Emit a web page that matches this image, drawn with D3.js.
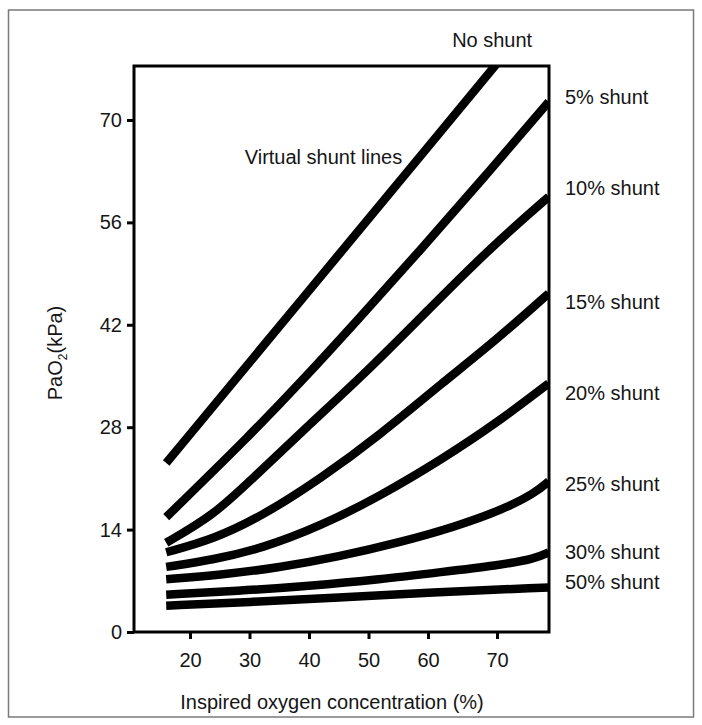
<!DOCTYPE html>
<html><head><meta charset="utf-8">
<script src="https://cdn.jsdelivr.net/npm/d3@7"></script>
<style>
body{margin:0;background:#fff}
svg{display:block}
text{font-family:"Liberation Sans",Arial,Helvetica,sans-serif;fill:#151515}
</style>
</head><body><div id="chart"></div>
<script>
// ---- data ----
const xTicks = [20, 30, 40, 50, 60, 70];
const yTicks = [0, 14, 28, 42, 56, 70];
const seriesNames = ["No shunt", "5% shunt", "10% shunt", "15% shunt", "20% shunt", "25% shunt", "30% shunt", "50% shunt"];
const noShunt = [[16.0,23.1],[38.5,45.2],[60,66.3],[77.5,86.3]];
const shunt5  = [[16.0,15.7],[30.1,26.9],[39.0,34.5],[48.0,42.5],[58.7,52.2],[68.0,62.0],[77.5,72.5]];
const shunt10 = [[16.0,12.2],[24.0,16.0],[30.0,20.6],[40.0,28.3],[50.0,35.8],[60.0,44.0],[69.0,52.5],[77.5,59.5]];
const shunt15 = [[16.0,10.9],[24.0,12.7],[32.0,15.8],[42.0,21.0],[52.0,27.0],[62.0,34.0],[70.0,40.0],[77.5,46.3]];
const shunt20 = [[16.0,8.9],[24.0,9.9],[32.0,11.4],[42.0,14.5],[52.0,18.6],[62.0,23.6],[70.0,28.6],[77.5,34.0]];
const shunt25 = [[16.0,7.2],[25.0,7.8],[35.0,8.8],[45.0,10.3],[55.0,12.2],[64.0,14.4],[71.0,16.8],[75.5,19.0],[77.5,20.6]];
const shunt30 = [[16.0,5.1],[28.0,5.6],[40.0,6.3],[52.0,7.2],[62.0,8.2],[70.0,9.1],[75.5,10.0],[77.5,10.9]];
const shunt50 = [[16.0,3.6],[30.0,4.1],[45.0,4.7],[60.0,5.4],[77.5,6.1]];
const seriesValues = [noShunt, shunt5, shunt10, shunt15, shunt20, shunt25, shunt30, shunt50];
const labelY = [80.9, 73.1, 60.7, 45.1, 32.7, 20.2, 10.9, 6.8];   // label anchor values (kPa)
const noShuntLabelX = 69.3;
const annotation = {text: "Virtual shunt lines", x: 29.2, y: 64.9};
const xTitle = "Inspired oxygen concentration (%)";

// ---- layout ----
const W = 702, H = 725;
const m = {left: 134, top: 66};
const iw = 415, ih = 566;

const svg = d3.select("#chart").append("svg").attr("width", W).attr("height", H);

// outer thin border
svg.append("rect").attr("x", 8.5).attr("y", 10).attr("width", 685).attr("height", 707)
  .attr("fill", "none").attr("stroke", "#7a7a7a").attr("stroke-width", 1.5);

const g = svg.append("g").attr("transform", `translate(${m.left},${m.top})`);

// piecewise x scale (reference axis spacing is uneven between 60 and 70)
const x = d3.scaleLinear().domain([20, 60, 70]).range([56, 294, 363]);
const y = d3.scaleLinear().domain([0, 77.38]).range([ih, 0]);

svg.append("defs").append("clipPath").attr("id", "plotclip")
  .append("rect").attr("x", 0).attr("y", 0).attr("width", iw).attr("height", ih);

const line = d3.line().x(d => x(d[0])).y(d => y(d[1])).curve(d3.curveBasis);

g.append("g").attr("clip-path", "url(#plotclip)")
  .selectAll("path").data(seriesValues).join("path")
  .attr("d", line).attr("fill", "none").attr("stroke", "#000")
  .attr("stroke-width", 8.5).attr("stroke-linecap", "butt");

// axes
const yAxis = d3.axisLeft(y).tickValues(yTicks).tickSize(7).tickPadding(5).tickSizeOuter(0);
const xAxis = d3.axisBottom(x).tickValues(xTicks).tickSize(7).tickPadding(14).tickSizeOuter(0);

const gy = g.append("g").call(yAxis);
const gx = g.append("g").attr("transform", `translate(0,${ih})`).call(xAxis);
[gx, gy].forEach(a => {
  a.select(".domain").remove();
  a.selectAll(".tick line").attr("stroke", "#000").attr("stroke-width", 3);
  a.selectAll(".tick text").attr("font-size", 20).attr("fill", "#151515")
    .style("font-family", '"Liberation Sans", Arial, sans-serif');
});

// frame
g.append("rect").attr("x", 0).attr("y", 0).attr("width", iw).attr("height", ih)
  .attr("fill", "none").attr("stroke", "#000").attr("stroke-width", 3);

// series labels
g.selectAll("text.slabel").data(seriesNames).join("text").attr("class", "slabel")
  .attr("x", (d, i) => i === 0 ? x(noShuntLabelX) : iw + 16)
  .attr("y", (d, i) => y(labelY[i]))
  .attr("dy", "0.35em")
  .attr("text-anchor", (d, i) => i === 0 ? "middle" : "start")
  .attr("font-size", 20)
  .text(d => d);

// annotation
g.append("text").attr("x", x(annotation.x)).attr("y", y(annotation.y)).attr("dy", "0.35em")
  .attr("font-size", 20).text(annotation.text);

// x title
svg.append("text").attr("x", 332).attr("y", 709).attr("text-anchor", "middle")
  .attr("font-size", 20).text(xTitle);

// y title
const yt = svg.append("text").attr("transform", "translate(62,353) rotate(-90)")
  .attr("text-anchor", "middle").attr("font-size", 20);
yt.append("tspan").text("PaO");
yt.append("tspan").attr("font-size", 12).attr("dy", 5).text("2");
yt.append("tspan").attr("dy", -5).text("(kPa)");
</script>
</body></html>
